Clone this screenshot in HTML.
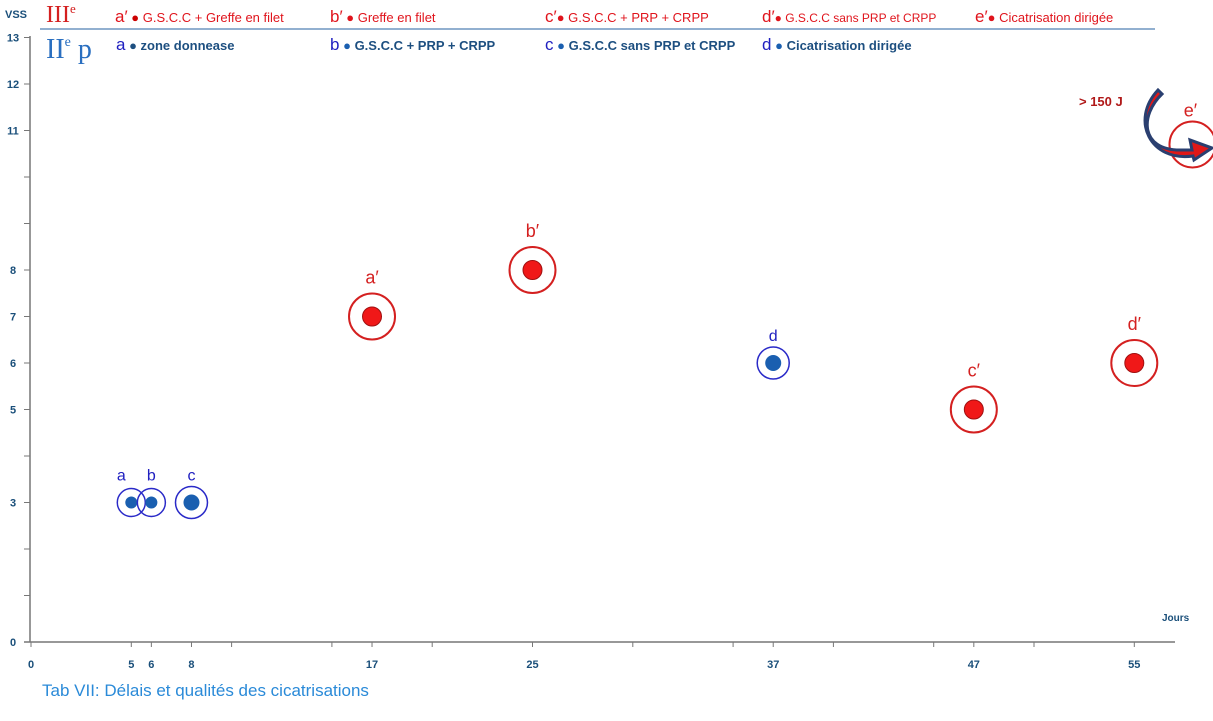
<!DOCTYPE html>
<html><head><meta charset="utf-8"><style>
body{margin:0;background:#fff;width:1213px;height:721px;overflow:hidden;font-family:"Liberation Sans",sans-serif}
svg{display:block}
</style></head><body>
<svg id="chart" width="1213" height="721" xmlns="http://www.w3.org/2000/svg">
<g id="legend" font-family="Liberation Sans, sans-serif">
<text x="5" y="18" font-size="11" font-weight="bold" fill="#1a4f7a">VSS</text>
<text x="46" y="22" font-size="24" font-family="Liberation Serif, serif" fill="#d42020">III<tspan font-size="13" dy="-9">e</tspan></text>
<line x1="40" y1="29" x2="1155" y2="29" stroke="#6f95c0" stroke-width="1.5"/>
<text x="46" y="58" font-size="28" font-family="Liberation Serif, serif" fill="#2a6fc0">II<tspan font-size="14" dy="-12">e</tspan><tspan dy="12"> p</tspan></text>
<g fill="#e0141c" font-size="13">
<text x="115" y="22"><tspan font-size="17">a′</tspan><tspan fill="#c00"> ●</tspan> G.S.C.C + Greffe en filet</text>
<text x="330" y="22"><tspan font-size="17">b′</tspan> ● Greffe en filet</text>
<text x="545" y="22"><tspan font-size="17">c′</tspan>● G.S.C.C + PRP + CRPP</text>
<text x="762" y="22" font-size="12"><tspan font-size="17">d′</tspan>● G.S.C.C sans PRP et CRPP</text>
<text x="975" y="22"><tspan font-size="17">e′</tspan>● Cicatrisation dirigée</text>
</g>
<g font-size="13" font-weight="bold" fill="#1d4f80">
<text x="116" y="50"><tspan fill="#2020c0" font-weight="normal" font-size="17">a</tspan> ● zone donnease</text>
<text x="330" y="50"><tspan fill="#2020c0" font-weight="normal" font-size="17">b</tspan> <tspan fill="#1a5fb0">●</tspan> G.S.C.C + PRP + CRPP</text>
<text x="545" y="50"><tspan fill="#2020c0" font-weight="normal" font-size="17">c</tspan> <tspan fill="#1a5fb0">●</tspan> G.S.C.C sans PRP et CRPP</text>
<text x="762" y="50"><tspan fill="#2020c0" font-weight="normal" font-size="17">d</tspan> <tspan fill="#1a5fb0">●</tspan>  Cicatrisation  dirigée</text>
</g>
</g>
<g id="axes"></g>
<g id="marks"></g>
<text x="1162" y="621" font-size="10" font-weight="bold" fill="#1a4f7a">Jours</text>
<text x="42" y="696" font-size="17" fill="#2a8ad8">Tab VII: Délais et qualités des cicatrisations</text>
<g>
<text x="1079" y="106" font-size="13" font-weight="bold" fill="#b01818">&gt; 150 J</text>
<path d="M1162 94 C1140 115,1140 150,1180 150 L1192 150 L1190 140 L1212 148 L1194 160 L1193 156 C1150 162,1130 120,1158 90 Z" fill="#e01818" stroke="#2a3f70" stroke-width="3"/>
</g>
</svg>
<script>
const xTicks=[0,5,6,8,10,15,17,20,25,30,35,37,40,45,47,50,55];
const xLabels=[0,5,6,8,17,25,37,47,55];
const yLabels=[0,3,5,6,7,8,11,12,13];
const blueNames=["a","b","c","d"];
const blueX=[5,6,8,37];
const blueY=[3,3,3,6];
const redNames=["a′","b′","c′","d′"];
const redX=[17,25,47,55];
const redY=[7,8,5,6];
const eX=[57.9];const eY=[10.7];
const NS="http://www.w3.org/2000/svg";
const sx=v=>31+v*20.06, sy=v=>642-v*46.5;
function mk(p,t,a){const e=document.createElementNS(NS,t);for(const k in a)e.setAttribute(k,a[k]);p.appendChild(e);return e;}
const ax=document.getElementById('axes'),mg=document.getElementById('marks');
let l=mk(ax,'line',{x1:30,y1:36,x2:30,y2:642,stroke:'#777','stroke-width':1.5});


l=mk(ax,'line',{x1:24,y1:642,x2:1175,y2:642,stroke:'#777','stroke-width':1.5});


for(let v=0;v<=13;v++){const t=mk(ax,'line',{x1:24,x2:30,y1:sy(v),y2:sy(v),stroke:'#777'});

}
yLabels.forEach(v=>{const t=mk(ax,'text',{x:13,y:sy(v)+4,'font-size':11,'font-weight':'bold',fill:'#1a4f7a','text-anchor':'middle'});t.textContent=v;

});
xTicks.forEach(v=>{const t=mk(ax,'line',{x1:sx(v),x2:sx(v),y1:642,y2:647,stroke:'#777'});

});
xLabels.forEach(v=>{const t=mk(ax,'text',{x:sx(v),y:668,'font-size':11,'font-weight':'bold',fill:'#1a4f7a','text-anchor':'middle'});t.textContent=v;

});
blueX.forEach((v,i)=>{const g=mk(mg,'g',{});


const small=i<2;
mk(g,'circle',{cx:sx(v),cy:sy(blueY[i]),r:small?14:16,fill:'none',stroke:'#2a2ac8','stroke-width':1.5});
mk(g,'circle',{cx:sx(v),cy:sy(blueY[i]),r:small?6:8,fill:'#1a5fb0'});
const t=mk(g,'text',{x:sx(v)-(i==0?10:0),y:sy(blueY[i])-22,'font-size':16,fill:'#2020c0','text-anchor':'middle'});t.textContent=blueNames[i];});
redX.forEach((v,i)=>{const g=mk(mg,'g',{});


mk(g,'circle',{cx:sx(v),cy:sy(redY[i]),r:23,fill:'none',stroke:'#d42020','stroke-width':2});
mk(g,'circle',{cx:sx(v),cy:sy(redY[i]),r:9.5,fill:'#f01818',stroke:'#a01010'});
const t=mk(g,'text',{x:sx(v),y:sy(redY[i])-33,'font-size':18,fill:'#d42020','text-anchor':'middle'});t.textContent=redNames[i];});
eX.forEach((v,i)=>{const g=mk(mg,'g',{});


mk(g,'circle',{cx:sx(v),cy:sy(eY[i]),r:23,fill:'none',stroke:'#d42020','stroke-width':2});
const t=mk(g,'text',{x:sx(v)-2,y:sy(eY[i])-28,'font-size':18,fill:'#d42020','text-anchor':'middle'});t.textContent='e′';});
</script>
</body></html>
